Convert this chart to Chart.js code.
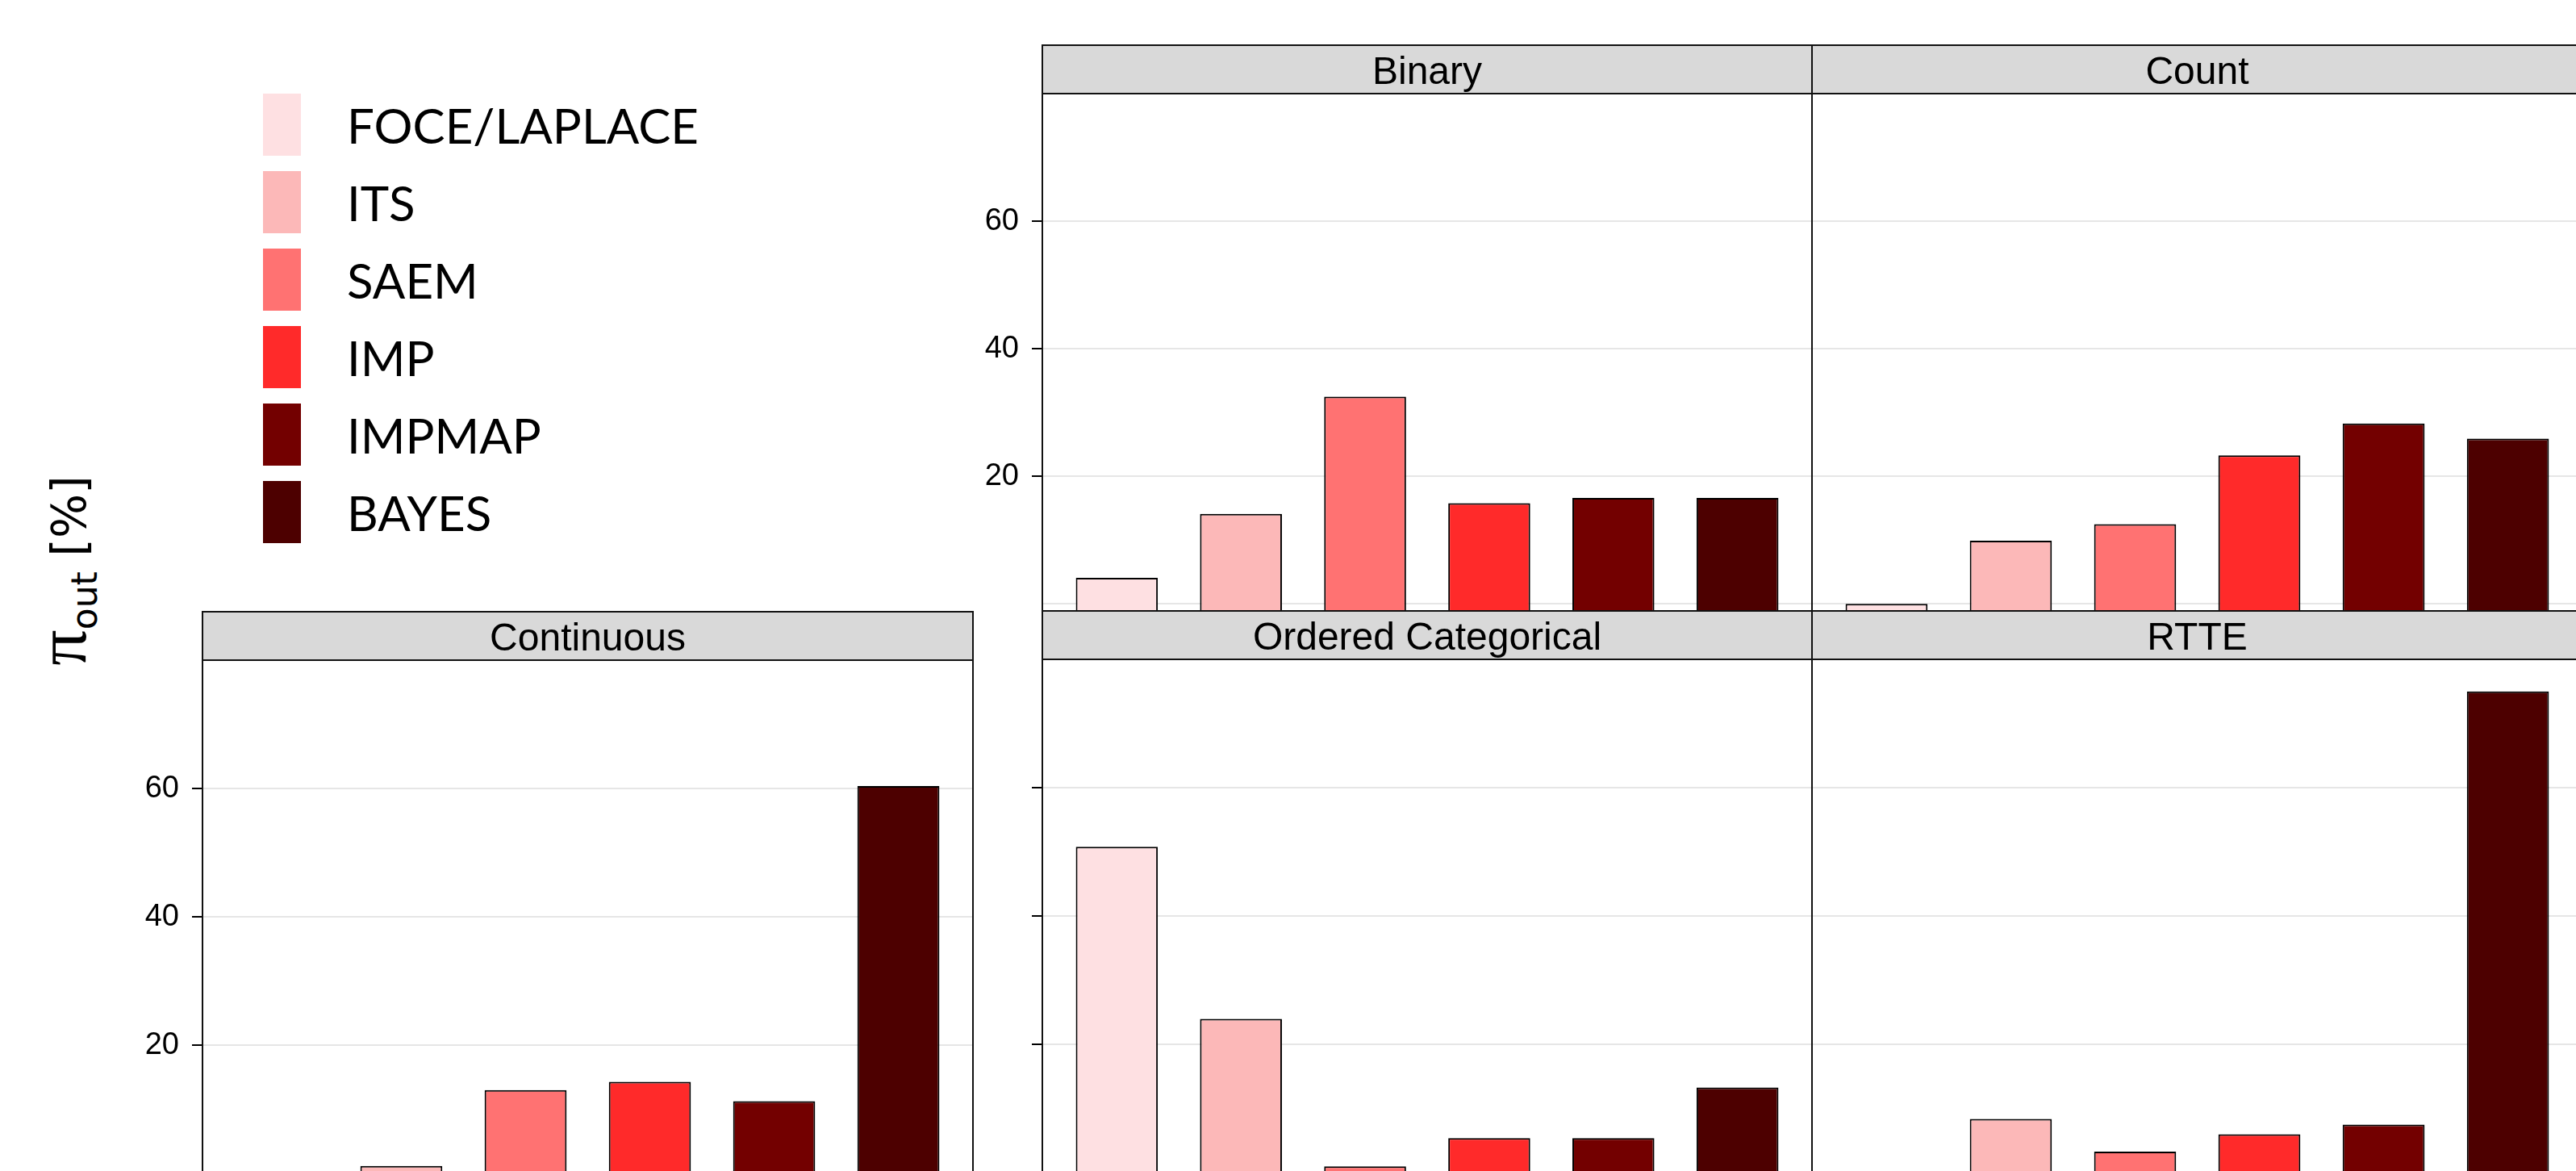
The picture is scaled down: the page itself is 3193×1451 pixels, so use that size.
<!DOCTYPE html>
<html>
<head>
<meta charset="utf-8">
<script src="https://cdn.jsdelivr.net/npm/chart.js@4.4.1/dist/chart.umd.min.js"></script>
<style>
  html, body { margin: 0; padding: 0; background: #fff; overflow: hidden; width: 3193px; height: 1451px; }
  canvas { position: absolute; }
  .legend-row { position: absolute; left: 326px; height: 77px; display: flex; align-items: center; }
  .legend-swatch { width: 47px; height: 77px; }
  .legend-name { margin-left: 57px; font-family: Lato, "Noto Sans", sans-serif; font-size: 60px; color: #000; white-space: nowrap; }
  #ylab { position: absolute; left: 80px; top: 707px; transform: translate(-50%, -50%) rotate(-90deg);
          white-space: nowrap; font-family: "DejaVu Sans", sans-serif; font-size: 58px; color: #000; line-height: 1; }
  #ylab .sym { font-family: "Liberation Serif", serif; font-size: 88px; }
  #ylab sub { font-size: 44px; vertical-align: -0.3em; line-height: 1; }
</style>
</head>
<body>
<div id="legend"></div>
<div id="ylab"><span class="sym">π</span><sub>out</sub> [%]</div>
<script>
// Estimation methods (bar order in every panel) and outlier rate per data type, in %
const methods = ['FOCE/LAPLACE', 'ITS', 'SAEM', 'IMP', 'IMPMAP', 'BAYES'];
const binary = [4.1, 14.1, 32.5, 15.8, 16.6, 16.6];
const count = [0, 9.9, 12.5, 23.3, 28.3, 25.9];
const continuous = [0, 1.2, 13.0, 14.3, 11.3, 60.4];
const orderedCategorical = [50.8, 24.0, 1.0, 5.4, 5.4, 13.3];
const rtte = [0, 8.4, 3.3, 6.0, 7.5, 75.0];
const yTickLabels = [20, 40, 60];
const yGridValues = [0, 20, 40, 60];

// Fill colour for each method
const methodColors = ['#fee0e2', '#fcb8b8', '#ff7272', '#ff2a2a', '#730000', '#4d0000'];

const Y_MIN = -1.1, Y_MAX = 80;
const STRIP = 60, PAD_T = 4, PAD_R = 2, PAD_B = 2;

// Legend
const legend = document.getElementById('legend');
methods.forEach((m, i) => {
  const row = document.createElement('div');
  row.className = 'legend-row';
  row.style.top = (116 + i * 96) + 'px';
  const sw = document.createElement('div');
  sw.className = 'legend-swatch';
  sw.style.background = methodColors[i];
  const nm = document.createElement('div');
  nm.className = 'legend-name';
  nm.textContent = m;
  row.appendChild(sw);
  row.appendChild(nm);
  legend.appendChild(row);
});

// Grey strip behind the panel title and black frames around strip and panel
const stripPlugin = {
  id: 'strip',
  beforeDraw(chart) {
    const { ctx, chartArea: a } = chart;
    ctx.save();
    ctx.fillStyle = '#d9d9d9';
    ctx.fillRect(a.left, a.top - STRIP, a.right - a.left, STRIP);
    ctx.restore();
  },
  afterDraw(chart) {
    const { ctx, chartArea: a } = chart;
    ctx.save();
    ctx.strokeStyle = '#111';
    ctx.lineWidth = 2;
    ctx.strokeRect(a.left, a.top - STRIP, a.right - a.left, STRIP);
    ctx.strokeRect(a.left, a.top, a.right - a.left, a.bottom - a.top);
    ctx.restore();
  }
};

function makePanel(title, values, box) {
  const canvas = document.createElement('canvas');
  const w = box.gutter + box.w + PAD_R;
  const h = PAD_T + STRIP + box.h + PAD_B;
  canvas.width = w;
  canvas.height = h;
  canvas.style.left = (box.x - box.gutter) + 'px';
  canvas.style.top = (box.y - PAD_T) + 'px';
  canvas.style.width = w + 'px';
  canvas.style.height = h + 'px';
  document.body.appendChild(canvas);

  new Chart(canvas, {
    type: 'bar',
    data: {
      datasets: [{
        data: values.map((v, i) => ({ x: i + 1, y: v })),
        backgroundColor: methodColors,
        borderColor: '#000',
        borderWidth: 2,
        base: Y_MIN,
        barPercentage: 0.66,
        categoryPercentage: 1
      }]
    },
    options: {
      responsive: false,
      animation: false,
      devicePixelRatio: 1,
      layout: { padding: { top: PAD_T, right: PAD_R, bottom: PAD_B, left: 0 }, autoPadding: false },
      plugins: {
        legend: { display: false },
        tooltip: { enabled: false },
        title: {
          display: true, text: title, fullSize: false, padding: { top: 10, bottom: 0 }, color: '#000',
          font: { family: '"Liberation Sans", Arial, sans-serif', size: 48, weight: 'normal', lineHeight: 50 / 48 }
        }
      },
      scales: {
        x: {
          type: 'linear', min: 0.4, max: 6.6, offset: false, display: false,
          afterBuildTicks: s => { s.ticks = methods.map((_, i) => ({ value: i + 1 })); }
        },
        y: {
          position: 'left', min: Y_MIN, max: Y_MAX,
          afterBuildTicks: s => { s.ticks = yGridValues.map(v => ({ value: v })); },
          afterFit: s => {
            s.width = box.gutter;
            s.paddingTop = 0; s.paddingBottom = 0; s.paddingLeft = 0; s.paddingRight = 0;
          },
          border: { display: false },
          grid: {
            color: '#e6e6e6', lineWidth: 2,
            drawTicks: box.ticks, tickLength: 13, tickWidth: 2,
            tickColor: c => (c.tick && c.tick.value === 0) ? 'rgba(0,0,0,0)' : '#000'
          },
          ticks: {
            display: box.ticks, padding: 16, color: '#000',
            font: { family: '"Liberation Sans", Arial, sans-serif', size: 38 },
            callback: v => (box.labels && yTickLabels.includes(v)) ? String(v) : ''
          }
        }
      }
    },
    plugins: [stripPlugin]
  });
}

makePanel('Binary', binary, { x: 1292, y: 56, w: 954, h: 641, gutter: 130, labels: true, ticks: true });
makePanel('Count', count, { x: 2246, y: 56, w: 955, h: 641, gutter: 0, labels: false, ticks: false });
makePanel('Continuous', continuous, { x: 251, y: 758, w: 955, h: 645, gutter: 130, labels: true, ticks: true });
makePanel('Ordered Categorical', orderedCategorical, { x: 1292, y: 757, w: 954, h: 645, gutter: 130, labels: false, ticks: true });
makePanel('RTTE', rtte, { x: 2246, y: 757, w: 955, h: 645, gutter: 0, labels: false, ticks: false });
</script>
</body>
</html>
